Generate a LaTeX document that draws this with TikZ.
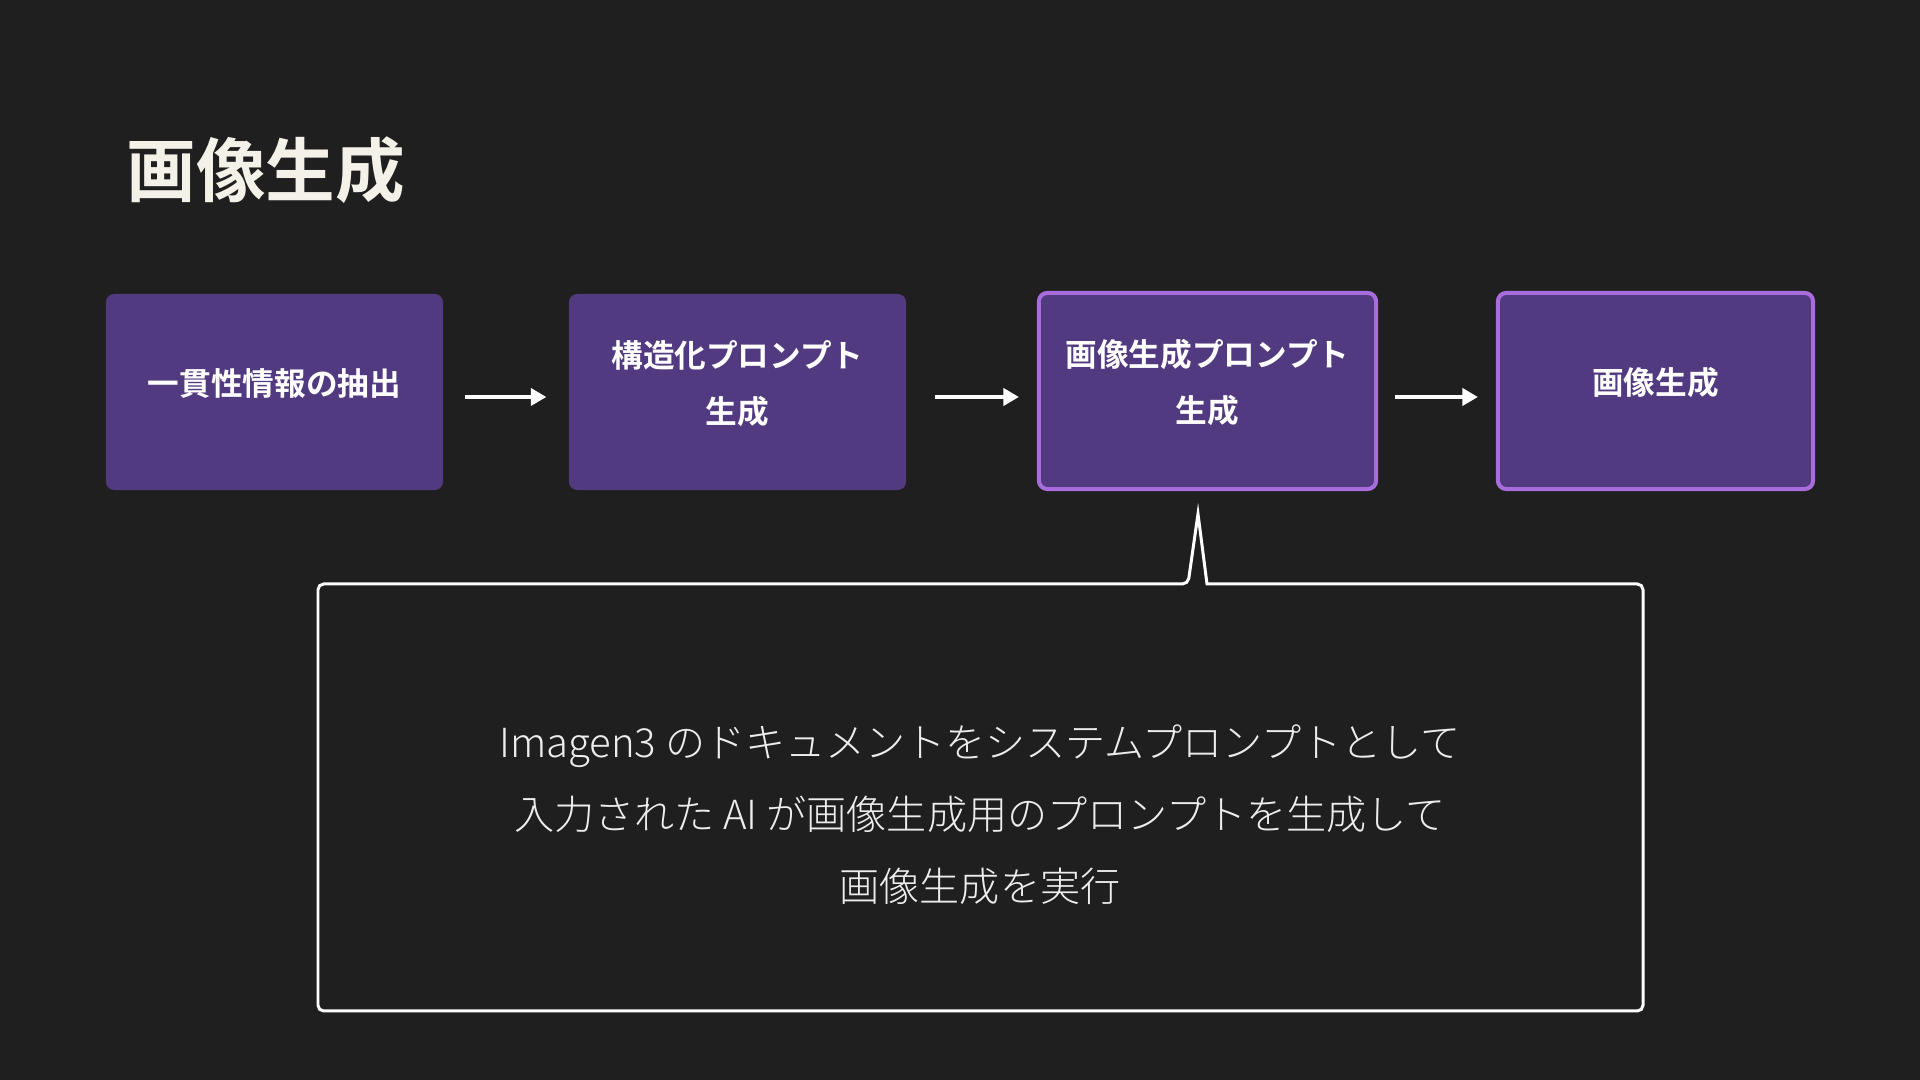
\documentclass[tikz,border=0pt]{standalone}
\usepackage{fontspec}
\usetikzlibrary{arrows.meta,positioning}
\IfFontExistsTF{Noto Sans CJK JP Bold}
  {\setmainfont{Noto Sans CJK JP}[BoldFont={Noto Sans CJK JP Bold}]}
  {\setmainfont{Noto Sans CJK JP}}
\IfFontExistsTF{Noto Sans CJK JP Light}
  {\newfontfamily\notefont{Noto Sans CJK JP Light}}
  {\newfontfamily\notefont{Noto Sans CJK JP}}
\definecolor{bgdark}{HTML}{1F1F1F}
\definecolor{stagefill}{HTML}{523A80}
\definecolor{stagerim}{HTML}{A86CDC}
\definecolor{titlefg}{HTML}{F4F2E8}

\begin{document}
\begin{tikzpicture}[
  x=0.01cm,y=-0.01cm,
  stage/.style={fill=stagefill, rounded corners=2.4pt, align=center, minimum width=3.37cm, minimum height=1.96cm, font=\bfseries\fontsize{9}{16}\selectfont, text=white, text depth=5.6pt, inner sep=2pt},
  picked/.style={stage, draw=stagerim, line width=1.15pt},
  arr/.style={-{Triangle[length=4.4pt,width=4.8pt]}, white, line width=1.1pt}
  ,callout/.style={draw=white, line width=0.85pt, line join=miter},
  note/.style={align=center, text=white!93!black, font=\notefont\fontsize{11.4}{20.5}\selectfont}
]
\useasboundingbox (0,0) rectangle (1920,1080);
\fill[bgdark] (0,0) rectangle (1920,1080);

\node[anchor=west, text=titlefg, font=\bfseries\fontsize{19.8}{24}\selectfont, inner sep=0pt] (title) at (126,170) {画像生成};

\node[stage] (extract) at (274.5,392) {一貫性情報の抽出};
\node[stage] (structure) at (737.5,392) {構造化プロンプト\\生成};
\node[picked] (prompt) at (1207.5,391) {画像生成プロンプト\\生成};
\node[picked, minimum width=3.15cm] (render) at (1655.5,391) {画像生成};

\draw[arr, shorten <=6pt, shorten >=6.2pt] (extract.east |- 0,397) -- (structure.west |- 0,397);
\draw[arr, shorten <=8pt, shorten >=5.1pt] (structure.east |- 0,397) -- (prompt.west |- 0,397);
\draw[arr, shorten <=4.8pt, shorten >=5.1pt] (prompt.east |- 0,397) -- (render.west |- 0,397);

% callout under the third stage
\coordinate (tip) at (1198,514);
\draw[callout] (1188,584) [sharp corners] -- (tip) -- (1207,584)
  [rounded corners=1.6pt] -- (1643,584) -- (1643,1011) -- (318,1011) -- (318,584) -- cycle;
\node[note] (explain) at (980,815) {Imagen3 のドキュメントをシステムプロンプトとして\\入力された AI が画像生成用のプロンプトを生成して\\画像生成を実行};
\end{tikzpicture}
\end{document}
